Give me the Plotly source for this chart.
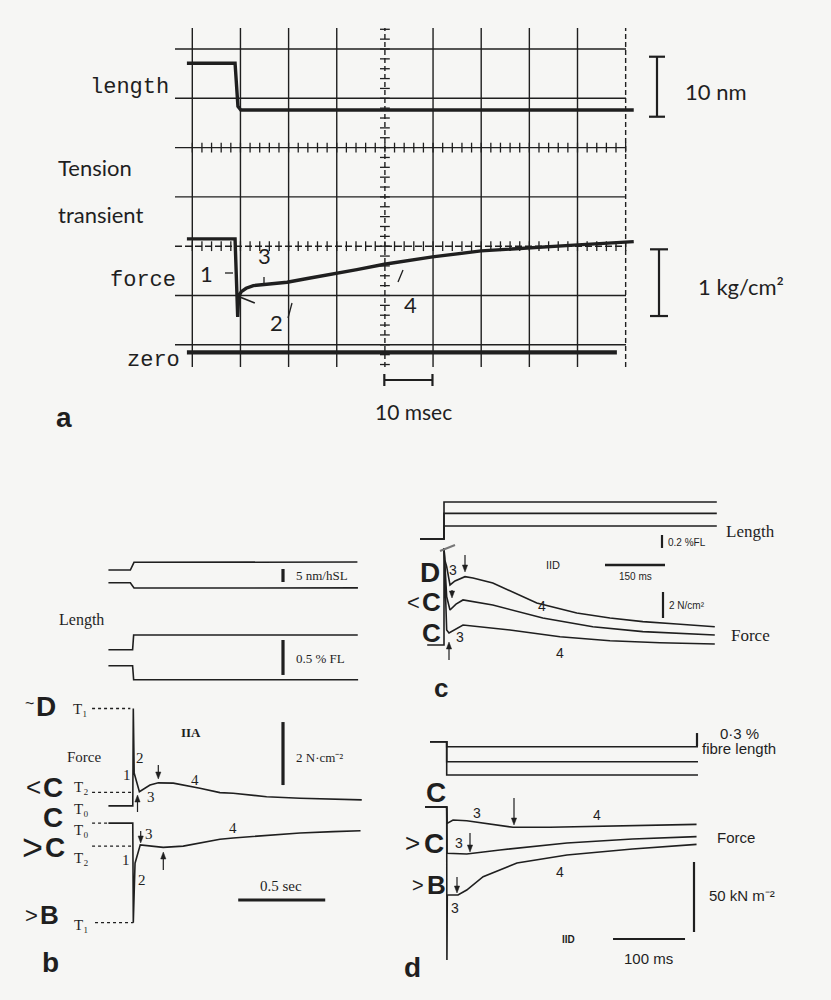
import numpy as np
import plotly.graph_objects as go

W, H = 831, 1000
INK = '#1f1f1f'
BG = '#f6f6f4'
MONO = 'Liberation Mono'
HUM = 'Lato'
SERIF = 'Liberation Serif'
SANS = 'Liberation Sans'

# ======================= DATA =======================
# ---- panel a : oscilloscope record, time in ms from step onset ----
a_length_t = [-10.3, -0.3, 0.3, 0.9, 82.5]
a_length_nm = [7.8, 7.8, 0.6, 0.0, 0.0]
a_force_t = [-10.3, -0.3, 0.25, 0.45, 1.0, 2.0, 3.5, 6.0, 10.5, 15.0, 20.0,
             25.0, 30.7, 40.7, 50.8, 60.8, 70.9, 82.5]
a_force_kg = [1.70, 1.70, 0.53, 0.84, 0.91, 0.96, 1.00, 1.02, 1.05, 1.11, 1.17,
              1.24, 1.32, 1.43, 1.52, 1.56, 1.61, 1.66]
a_phase2_t = [0.3, 3.8]
a_phase2_kg = [0.84, 0.74]
a_zero_t = [-10.3, 79.0]
a_zero_kg = [0.0, 0.0]
a_grid_t0 = -9.18                      # first graticule column (ms)
a_grid_ms = 10                         # ms per division
a_grid_cols = [0, 1, 2, 3, 4, 5, 6, 7, 8, 9]
a_grid_cols_dashed = [4, 9]
a_grid_rows = [0, 1, 2, 3, 4, 5, 6]    # divisions, counted from the bottom
a_grid_rows_dashed = [2]
a_tick_rows = [2, 4]
a_tick_col = 4
a_bar_nm = 10
a_bar_kg = 1
a_bar_ms = 10

# ---- panel b : time in s, sarcomere length (nm/hS), fibre length (%), force (N/cm2) ----
b_sl_up_t = [-0.143, -0.017, 0.004, 1.288]
b_sl_up = [0.0, 0.0, 2.96, 3.05]
b_sl_dn_t = [-0.143, -0.017, 0.004, 1.291]
b_sl_dn = [-4.88, -4.88, -6.92, -6.88]
b_fl_up_t = [-0.143, -0.004, 0.002, 1.290]
b_fl_up = [0.0, 0.0, 0.21, 0.21]
b_fl_dn_t = [-0.143, -0.004, 0.002, 1.292]
b_fl_dn = [-0.23, -0.23, -0.43, -0.43]
b_f_up_t = [-0.143, -0.003, 0.0, 0.005, 0.035, 0.096, 0.144, 0.23, 0.383, 0.498,
            0.574, 0.766, 0.958, 1.15, 1.313]
b_f_up = [3.71, 3.71, 6.80, 4.75, 4.16, 4.37, 4.44, 4.43, 4.27, 4.13,
          4.11, 4.00, 3.95, 3.92, 3.90]
b_f_dn_t = [-0.143, -0.003, 0.0, 0.005, 0.01, 0.04, 0.096, 0.172, 0.287, 0.383,
            0.498, 0.574, 0.766, 0.958, 1.149, 1.306]
b_f_dn = [3.16, 3.16, 0.0, 1.36, 1.89, 2.47, 2.44, 2.39, 2.43, 2.54,
          2.65, 2.69, 2.78, 2.85, 2.89, 2.92]
b_ref_level = [6.80, 4.14, 3.16, 2.43, 0.0]          # T1, T2, T0, T2, T1
b_ref_t0 = [-0.237, -0.237, -0.237, -0.237, -0.22]
b_ref_t1 = [-0.017, 0.0, -0.143, 0.0, 0.0]
b_bar_nm = 5
b_bar_fl = 0.5
b_bar_f = 2
b_bar_s = 0.5

# ---- panel c : time in ms, length (%FL), force (N/cm2) ----
c_len_t = [-60, 0, 0, 682]
c_len_steps = [0.569, 0.395, 0.20]
c_fD_t = [0, 2, 6.7, 15, 27.5, 52.5, 72.5, 122, 232, 332, 415, 497, 582, 677]
c_fD = [8.62, 7.69, 7.18, 5.77, 6.08, 6.41, 6.31, 5.92, 4.38, 3.62, 3.23, 2.95, 2.77, 2.56]
c_fCl_t = [0, 6.7, 15, 30, 47.5, 122, 247, 372, 497, 677]
c_fCl = [8.62, 4.87, 3.85, 4.30, 4.62, 4.23, 3.23, 2.56, 2.18, 1.92]
c_fC_t = [-42, 0, 0, 6.7, 12.5, 47.5, 165, 290, 415, 540, 677]
c_fC = [1.15, 1.15, 8.62, 2.31, 2.08, 2.69, 2.31, 1.79, 1.48, 1.33, 1.23]
c_bar_fl = 0.2
c_bar_ms = 150
c_bar_f = 2

# ---- panel d : time in ms, length (%FL), force (kN/m2) ----
d_len_t = [-23.2, 0, 0, 349]
d_len_steps = [-0.115, -0.462, -0.769]
d_fC_t = [-30, 0, 0.5, 8.8, 27.8, 55.6, 92, 143, 213, 347]
d_fC = [109.3, 109.3, 97.6, 100.0, 99.5, 97.6, 94.8, 94.8, 95.7, 96.9]
d_fCg_t = [-30, 0, 0.5, 27.8, 74, 167, 258, 347]
d_fCg = [109.3, 109.3, 76.2, 75.7, 78.6, 83.6, 86.4, 88.1]
d_fB_t = [-30, 0, 0.3, 0.8, 15.7, 27.8, 50.6, 97.6, 167, 258, 347]
d_fB = [109.3, 109.3, 0.0, 46.4, 46.4, 50.0, 59.5, 69.3, 75.0, 79.3, 82.6]
d_bar_fl = 0.3
d_bar_f = 50
d_bar_ms = 100


# ======================= HELPERS =======================
def xdom(p0, p1, origin, ppu):
    return dict(domain=[p0 / W, p1 / W], range=[(p0 - origin) / ppu, (p1 - origin) / ppu])


def ydom(p0, p1, origin, ppu):
    return dict(domain=[1 - p1 / H, 1 - p0 / H], range=[(origin - p1) / ppu, (origin - p0) / ppu])


def px(x):
    return x / W


def py(y):
    return 1 - y / H


HIDE = dict(visible=False, fixedrange=True)

fig = go.Figure()


def line(x, y, xa, ya, width=1.6, dash=None, color=INK):
    fig.add_trace(go.Scatter(x=x, y=y, xaxis=xa, yaxis=ya, mode='lines',
                             line=dict(color=color, width=width, dash=dash),
                             hoverinfo='skip', showlegend=False))


# ---------------- axes definitions ----------------
A_ORIGIN, A_PPU = 236.5, 4.815
AX_A = xdom(175, 636, A_ORIGIN, A_PPU)
AY_A = ydom(28, 367, 344.8, 49.3)
layout_axes = dict(
    xaxis=dict(**AX_A, **HIDE, anchor='y'),
    yaxis=dict(**AY_A, **HIDE, anchor='x'),
    yaxis2=dict(**ydom(28, 367, 110, 6), **HIDE, overlaying='y', anchor='x'),
    yaxis3=dict(**ydom(28, 367, 352.3, 66.7), **HIDE, overlaying='y', anchor='x'),
    xaxis2=dict(**xdom(85, 365, 133.3, 174), **HIDE, anchor='y4'),
    yaxis4=dict(**ydom(550, 935, 570, 2.6), **HIDE, anchor='x2'),
    yaxis5=dict(**ydom(550, 935, 649.7, 70), **HIDE, overlaying='y4', anchor='x2'),
    yaxis6=dict(**ydom(550, 935, 922.7, 31.5), **HIDE, overlaying='y4', anchor='x2'),
    xaxis3=dict(**xdom(405, 722, 444, 0.4), **HIDE, anchor='y7'),
    yaxis7=dict(**ydom(490, 670, 539, 65), **HIDE, anchor='x3'),
    yaxis8=dict(**ydom(490, 670, 660, 13), **HIDE, overlaying='y7', anchor='x3'),
    xaxis4=dict(**xdom(415, 705, 446.7, 0.72), **HIDE, anchor='y9'),
    yaxis9=dict(**ydom(725, 965, 741.7, 43.3), **HIDE, anchor='x4'),
    yaxis10=dict(**ydom(725, 965, 960, 1.4), **HIDE, overlaying='y9', anchor='x4'),
)

# ---------------- panel a : graticule ----------------
yr = AY_A['range']
row_t = [(175 - A_ORIGIN) / A_PPU, (626 - A_ORIGIN) / A_PPU]
for k in a_grid_cols:
    tx = a_grid_t0 + k * a_grid_ms
    dash = '5px,3px' if k in a_grid_cols_dashed else None
    line([tx, tx], yr, 'x', 'y', 1.4, dash)
for r in a_grid_rows:
    dash = '7px,3px' if r in a_grid_rows_dashed else None
    line(row_t, [r, r], 'x', 'y', 1.4, dash)

tick_t = np.arange(a_grid_t0, a_grid_t0 + 9 * a_grid_ms + 0.1, a_grid_ms / 5)
for div in a_tick_rows:
    fig.add_trace(go.Scatter(x=tick_t, y=[div] * len(tick_t), xaxis='x', yaxis='y',
                             mode='markers', hoverinfo='skip', showlegend=False,
                             marker=dict(symbol='line-ns', size=7,
                                         line=dict(width=1.3, color=INK))))
tick_div = np.arange(-0.4, 6.45, 0.2)
fig.add_trace(go.Scatter(x=[a_grid_t0 + a_tick_col * a_grid_ms] * len(tick_div), y=tick_div,
                         xaxis='x', yaxis='y', mode='markers', hoverinfo='skip',
                         showlegend=False,
                         marker=dict(symbol='line-ew', size=7,
                                     line=dict(width=1.3, color=INK))))

# ---------------- panel a : traces ----------------
line(a_zero_t, a_zero_kg, 'x', 'y3', 4.2)
line(a_length_t, a_length_nm, 'x', 'y2', 3.4)
line(a_force_t, a_force_kg, 'x', 'y3', 3.4)
line(a_phase2_t, a_phase2_kg, 'x', 'y3', 1.6)

# ---------------- panel b ----------------
line(b_sl_up_t, b_sl_up, 'x2', 'y4')
line(b_sl_dn_t, b_sl_dn, 'x2', 'y4')
line(b_fl_up_t, b_fl_up, 'x2', 'y5')
line(b_fl_dn_t, b_fl_dn, 'x2', 'y5')
line(b_f_up_t, b_f_up, 'x2', 'y6')
line(b_f_dn_t, b_f_dn, 'x2', 'y6')
for lv, t0, t1 in zip(b_ref_level, b_ref_t0, b_ref_t1):
    line([t0, t1], [lv, lv], 'x2', 'y6', 1.3, 'dot')

# ---------------- panel c ----------------
for s in c_len_steps:
    line(c_len_t, [0, 0, s, s], 'x3', 'y7')
line(c_fD_t, c_fD, 'x3', 'y8')
line(c_fCl_t, c_fCl, 'x3', 'y8')
line(c_fC_t, c_fC, 'x3', 'y8')

# ---------------- panel d ----------------
for s in d_len_steps:
    line(d_len_t, [0, 0, s, s], 'x4', 'y9')
line(d_fC_t, d_fC, 'x4', 'y10')
line(d_fCg_t, d_fCg, 'x4', 'y10')
line(d_fB_t, d_fB, 'x4', 'y10')

# ======================= SCALE BARS, ARROWS & SMALL MARKS =======================
shapes = []


def vbar(xpix, yref, y0, length, width=2.2, cap=0):
    shapes.append(dict(type='line', xref='paper', yref=yref, x0=px(xpix), x1=px(xpix),
                       y0=y0, y1=y0 + length, line=dict(color=INK, width=width)))
    if cap:
        for yy in (y0, y0 + length):
            shapes.append(dict(type='line', xref='paper', yref=yref, x0=px(xpix - cap),
                               x1=px(xpix + cap), y0=yy, y1=yy,
                               line=dict(color=INK, width=width)))


def hbar(xref, x0, length, ypix, width=2.2, cap=0):
    shapes.append(dict(type='line', xref=xref, yref='paper', x0=x0, x1=x0 + length,
                       y0=py(ypix), y1=py(ypix), line=dict(color=INK, width=width)))
    if cap:
        for xx in (x0, x0 + length):
            shapes.append(dict(type='line', xref=xref, yref='paper', x0=xx, x1=xx,
                               y0=py(ypix - cap), y1=py(ypix + cap),
                               line=dict(color=INK, width=width)))


def seg(x0, y0, x1, y1, width=1.3, color=INK):
    shapes.append(dict(type='line', xref='paper', yref='paper', x0=px(x0), y0=py(y0),
                       x1=px(x1), y1=py(y1), line=dict(color=color, width=width)))


def arrow(x, yhead, ytail):
    s = 1 if ytail < yhead else -1          # +1 : arrow points down
    seg(x, ytail, x, yhead - s * 3, 1.2)
    path = 'M {:.5f},{:.5f} L {:.5f},{:.5f} L {:.5f},{:.5f} Z'.format(
        px(x - 2.6), py(yhead - s * 7), px(x + 2.6), py(yhead - s * 7), px(x), py(yhead))
    shapes.append(dict(type='path', xref='paper', yref='paper', path=path,
                       fillcolor=INK, line=dict(color=INK, width=0.5)))


vbar(657, 'y2', -1.12, a_bar_nm, 2.2, 8)
vbar(659, 'y3', 0.544, a_bar_kg, 2.2, 9)
hbar('x', 30.7, a_bar_ms, 380, 2.2, 6)
vbar(283, 'y4', -4.62, b_bar_nm, 3.2)
vbar(283, 'y5', -0.361, b_bar_fl, 3.2)
vbar(283, 'y6', 4.37, b_bar_f, 3.2)
hbar('x2', 0.603, b_bar_s, 900, 3.2)
vbar(662, 'y7', -0.138, c_bar_fl, 2.2)
hbar('x3', 402.5, c_bar_ms, 565, 2.4)
vbar(663, 'y8', 3.23, c_bar_f, 2.2)
vbar(697, 'y9', -0.1, d_bar_fl, 2.2)
vbar(694, 'y10', 20, d_bar_f, 2.2)
hbar('x4', 231, d_bar_ms, 939, 2.2)

seg(225, 273, 233, 273)
seg(264, 277, 264, 283)
seg(288, 318, 292, 303)
seg(398, 282, 403, 270)
seg(440, 551, 455, 545, 2.0, '#777777')

arrow(158.3, 779, 765)
arrow(137.5, 795, 812)
arrow(140.7, 843, 831)
arrow(163.3, 852, 870)
arrow(465, 572, 555)
arrow(452, 598, 590)
arrow(449, 642, 660)
arrow(514, 825, 798)
arrow(470, 852, 833)
arrow(457, 893, 877)

# ======================= TEXT =======================
anns = []


def T(text, x, y, size, family, xanchor='center', weight='normal', color=INK):
    anns.append(dict(text=text, x=px(x), y=py(y), xref='paper', yref='paper',
                     xanchor=xanchor, yanchor='middle', showarrow=False,
                     font=dict(family=family, size=size, color=color, weight=weight)))


def B(text, x, y, size=28):
    T(text, x, y, size, SANS, 'center', 'bold')


# panel a
T('length', 171, 88, 22, MONO, 'right')
T('Tension', 56, 167, 22, HUM, 'left')
T('transient', 56, 215, 22, HUM, 'left')
T('force', 178, 280, 22, MONO, 'right')
T('zero', 182, 360, 22, MONO, 'right')
T('1', 206, 273, 22, HUM)
T('3', 264, 255, 22, HUM)
T('2', 276, 323, 22, HUM)
T('4', 410, 305, 22, HUM)
T('10 nm', 683, 92, 22, HUM, 'left')
T('1 kg/cm²', 696, 287, 22, HUM, 'left')
T('10 msec', 413, 412, 21, HUM)
B('a', 64, 418)

# panel b
T('5 nm/hSL', 294, 575, 13, SERIF, 'left')
T('Length', 81, 620, 16, SERIF)
T('0.5 % FL', 294, 658, 13, SERIF, 'left')
T('~', 29, 703, 16, SANS)
B('D', 46, 706)
T('T₁', 80, 709, 15, SERIF)
T('IIA', 191, 732, 13, SERIF, 'center', 'bold')
T('2 N·cm⁻²', 294, 757, 13, SERIF, 'left')
T('Force', 84, 757, 15, SERIF)
for txt, x, y in [('1', 127, 775), ('2', 140, 758), ('3', 151, 797), ('4', 195, 780),
                  ('3', 149, 834), ('1', 126, 860), ('2', 142, 880), ('4', 233, 828)]:
    T(txt, x, y, 15, SERIF)
T('&lt;', 33, 787, 26, SANS)
B('C', 53, 787)
T('T₂', 81, 787, 15, SERIF)
T('T₀', 81, 809, 15, SERIF)
B('C', 53, 817)
T('T₀', 81, 830, 15, SERIF)
T('&gt;', 32, 847, 36, SANS)
B('C', 55, 847)
T('T₂', 81, 858, 15, SERIF)
T('&gt;', 31, 915, 22, SANS)
B('B', 49, 915, 26)
T('T₁', 81, 925, 15, SERIF)
T('0.5 sec', 281, 886, 15, SERIF)
B('b', 50, 962)

# panel c
T('Length', 750, 531, 17, SERIF)
T('0.2 %FL', 666, 542, 10, SANS, 'left')
T('IID', 553, 565, 11, SANS)
T('150 ms', 635, 576, 10, SANS)
B('D', 430, 572)
T('&lt;', 413, 602, 22, SANS)
B('C', 432, 602, 26)
B('C', 431, 633, 26)
for txt, x, y in [('3', 453, 570), ('3', 460, 637), ('4', 542, 606), ('4', 560, 653)]:
    T(txt, x, y, 14, SANS)
T('2 N/cm²', 667, 605, 10, SANS, 'left')
T('Force', 750, 635, 17, SERIF)
B('c', 441, 688, 26)

# panel d
T('0·3 %', 718, 733, 15, SANS, 'left')
T('fibre length', 700, 748, 15, SANS, 'left')
B('C', 436, 792)
T('&gt;', 412, 843, 26, SANS)
B('C', 434, 843)
T('&gt;', 418, 885, 20, SANS)
B('B', 436, 885, 26)
for txt, x, y in [('3', 477, 813), ('4', 597, 815), ('3', 459, 843), ('3', 455, 908),
                  ('4', 560, 872)]:
    T(txt, x, y, 14, SANS)
T('Force', 715, 837, 15, SANS, 'left')
T('50 kN m⁻²', 707, 895, 15, SANS, 'left')
T('IID', 568, 939, 10, SANS, 'center', 'bold')
T('100 ms', 648, 958, 15, SANS)
B('d', 412, 967)

fig.update_layout(width=W, height=H, autosize=False,
                  margin=dict(l=0, r=0, t=0, b=0, pad=0),
                  paper_bgcolor=BG, plot_bgcolor=BG, showlegend=False,
                  shapes=shapes, annotations=anns, **layout_axes)
fig.write_html('out.html', config={'displayModeBar': False, 'staticPlot': True},
               post_script="document.body.style.margin='0';")
